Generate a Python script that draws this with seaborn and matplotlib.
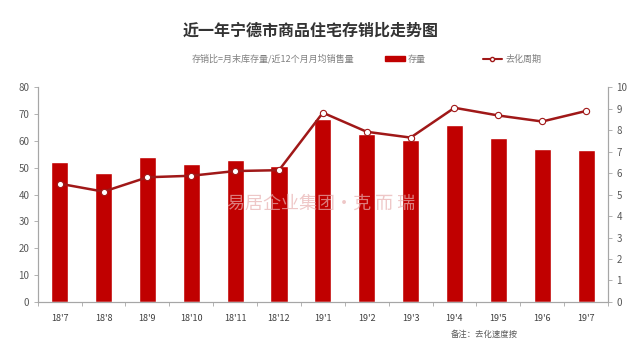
import numpy as np
import pandas as pd
import seaborn as sns
import matplotlib.pyplot as plt
from matplotlib.lines import Line2D
from matplotlib.patches import Patch

# данные с графика
months = ["18'7", "18'8", "18'9", "18'10", "18'11", "18'12",
          "19'1", "19'2", "19'3", "19'4", "19'5", "19'6", "19'7"]
stock = [52.2, 48.1, 53.9, 51.5, 52.9, 50.8, 68.2, 62.7, 60.2, 66.0, 61.0, 56.9, 56.7]
cycle = [5.51, 5.14, 5.81, 5.88, 6.10, 6.14, 8.82, 7.93, 7.66, 9.05, 8.69, 8.41, 8.90]
left_ticks = [0, 10, 20, 30, 40, 50, 60, 70, 80]
right_ticks = [0, 1, 2, 3, 4, 5, 6, 7, 8, 9, 10]

BAR_RED = "#C00000"
LINE_RED = "#A01818"
GRAY = "#595959"
AXIS_GRAY = "#A6A6A6"

sns.set_style("white")
plt.rcParams['font.family'] = ['Noto Sans CJK SC', 'DejaVu Sans']

df = pd.DataFrame({"month": months, "stock": stock, "cycle": cycle})

fig = plt.figure(figsize=(6.4, 3.51), dpi=100)
ax = fig.add_axes([0.059, 0.14, 0.891, 0.611])

sns.barplot(data=df, x="month", y="stock", color=BAR_RED, width=0.39,
            saturation=1, ax=ax)

ax2 = ax.twinx()
sns.pointplot(data=df, x="month", y="cycle", color=LINE_RED, ax=ax2,
              markers="o", markersize=4.5, linewidth=1.8,
              markerfacecolor="white", markeredgecolor=LINE_RED,
              markeredgewidth=0.8)

ax.set_xlim(-0.5, len(months) - 0.5)
ax.set_ylim(0, 80)
ax2.set_ylim(0, 10)
ax.set_yticks(left_ticks)
ax2.set_yticks(right_ticks)
ax.set_xlabel("")
ax.set_ylabel("")
ax2.set_ylabel("")

for a in (ax, ax2):
    a.spines["top"].set_visible(False)
    for side in ("left", "right", "bottom"):
        a.spines[side].set_color(AXIS_GRAY)
        a.spines[side].set_linewidth(0.8)

ax.tick_params(axis="y", labelsize=7, colors=GRAY, length=3, width=0.6,
               left=True, color=AXIS_GRAY, pad=3)
ax2.tick_params(axis="y", labelsize=7, colors=GRAY, length=3, width=0.6,
                right=True, color=AXIS_GRAY, pad=3)
for lbl in ax.get_yticklabels() + ax2.get_yticklabels():
    lbl.set_color(GRAY)

# подписи месяцев по центру, засечки между категориями
ax.set_xticks(range(len(months)))
ax.set_xticklabels(months)
ax.set_xticks(np.arange(-0.5, len(months), 1.0), minor=True)
ax.tick_params(axis="x", which="major", length=0, labelsize=6.5, colors="#404040", pad=9)
ax.tick_params(axis="x", which="minor", length=3, width=0.6, color=AXIS_GRAY, bottom=True)

# заголовок и пояснения
fig.text(0.485, 0.912, "近一年宁德市商品住宅存销比走势图", ha="center", va="center",
         fontsize=11.5, fontweight="bold", color="#333333")
fig.text(0.3, 0.834, "存销比=月末库存量/近12个月月均销售量", ha="left", va="center",
         fontsize=6.5, color="#7F7F7F")

handles = [Patch(facecolor=BAR_RED, edgecolor=BAR_RED),
           Line2D([], [], color=LINE_RED, lw=1.5, marker="o", markersize=3,
                  markerfacecolor="white", markeredgecolor=LINE_RED)]
fig.legend(handles, ["存量", "去化周期"], loc="center left",
           bbox_to_anchor=(0.589, 0.832), ncol=2, frameon=False, fontsize=6.5,
           labelcolor="#7F7F7F", handlelength=2.2, handleheight=0.6,
           columnspacing=6.3, handletextpad=0.3)

# водяной знак и примечание
fig.text(0.355, 0.42, "易居企业集团·克 而 瑞", ha="left", va="center",
         fontsize=13, color="#E8B0B0", alpha=0.7)
fig.text(0.705, 0.046, "备注：去化速度按", ha="left", va="center",
         fontsize=6, color="#595959")

fig.savefig("out.png", dpi=100)
plt.close(fig)
